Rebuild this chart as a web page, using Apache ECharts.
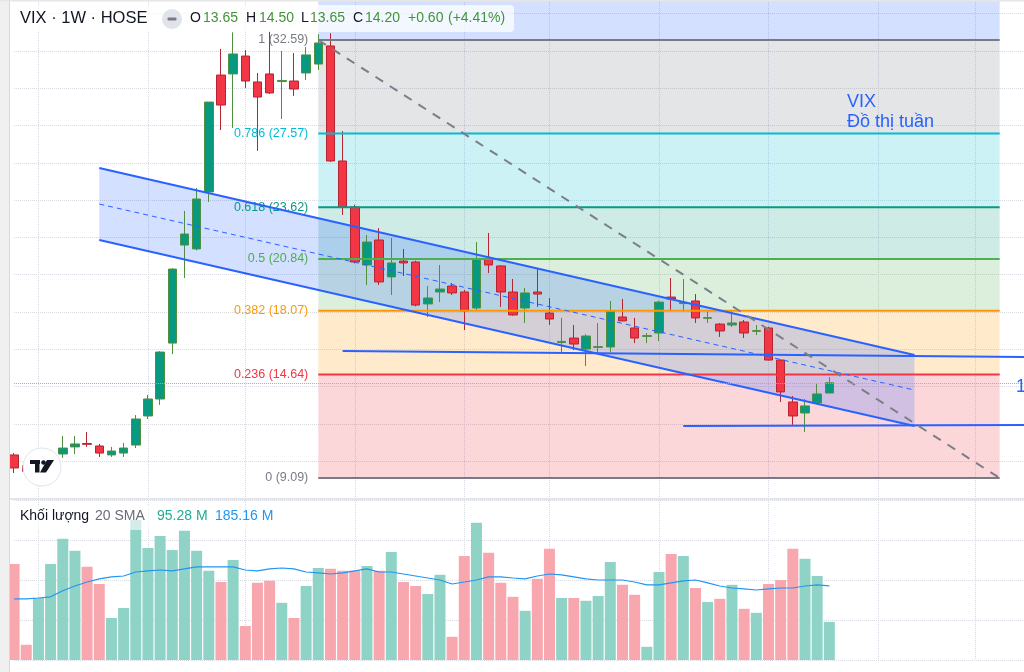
<!DOCTYPE html>
<html lang="vi">
<head>
<meta charset="UTF-8">
<title>VIX 1W HOSE</title>
<style>
  html, body { margin: 0; padding: 0; background: #fff; }
  #chart { width: 1024px; height: 672px; }
</style>
</head>
<body>
<div id="chart"></div>
<script src="https://cdn.jsdelivr.net/npm/echarts@6/dist/echarts.min.js"></script>
<script>
// weekly candles
var opens = [10.33, 9.75, 9.45, 9.70, 10.38, 10.76, 10.94, 10.81, 10.33, 10.43,
  10.86, 12.42, 13.33, 16.33, 21.59, 21.38, 24.44, 30.71, 30.77, 31.73,
  30.34, 30.77, 30.36, 30.39, 30.82, 31.30, 32.27, 26.10, 23.63, 20.52,
  21.86, 19.88, 20.73, 20.68, 18.43, 19.07, 19.39, 19.07, 18.21, 20.84,
  20.47, 19.07, 18.21, 19.07, 17.94, 16.36, 16.60, 16.01, 16.10, 16.12,
  17.73, 17.14, 16.69, 16.87, 18.80, 18.45, 18.59, 17.66, 17.35, 17.30,
  17.46, 16.96, 17.14, 15.42, 13.17, 12.58, 13.12, 13.65];
var highs = [10.43, 9.85, 9.90, 10.10, 11.35, 11.35, 11.56, 10.92, 10.76, 10.97,
  12.47, 13.55, 15.90, 20.35, 23.42, 24.65, 29.26, 32.11, 33.00, 32.05,
  30.82, 33.05, 32.00, 31.89, 32.21, 32.90, 32.95, 27.71, 23.75, 22.13,
  22.50, 21.97, 21.38, 20.75, 19.39, 20.52, 19.55, 19.18, 21.75, 22.24,
  20.50, 19.77, 19.29, 20.30, 18.75, 17.68, 17.30, 16.80, 17.41, 18.59,
  18.70, 17.68, 16.87, 18.60, 19.82, 19.77, 18.96, 18.10, 17.40, 18.10,
  17.57, 17.30, 17.20, 15.45, 13.49, 13.33, 14.19, 14.50];
var lows = [9.36, 9.09, 9.30, 9.60, 10.17, 10.38, 10.76, 10.22, 10.22, 10.22,
  10.70, 12.26, 13.01, 15.74, 19.82, 21.30, 23.90, 27.76, 27.87, 30.02,
  26.64, 29.70, 28.35, 29.59, 30.44, 30.98, 26.05, 23.20, 20.60, 19.45,
  19.45, 18.91, 19.93, 18.30, 17.73, 18.53, 18.91, 17.03, 18.05, 20.09,
  18.27, 17.80, 17.41, 18.27, 17.30, 15.80, 15.96, 15.10, 15.80, 15.85,
  17.50, 16.33, 16.33, 16.44, 18.10, 18.00, 17.41, 17.41, 16.66, 17.19,
  16.60, 16.76, 15.40, 13.17, 11.94, 11.56, 13.10, 13.65];
var closes = [9.63, 9.45, 9.75, 9.95, 10.70, 10.92, 10.90, 10.43, 10.54, 10.70,
  12.26, 13.33, 15.85, 20.30, 22.18, 24.06, 29.26, 29.10, 31.84, 30.39,
  29.53, 29.75, 30.42, 29.96, 31.79, 32.43, 26.10, 23.63, 20.68, 21.75,
  19.61, 20.63, 20.63, 18.37, 18.75, 19.23, 19.02, 18.05, 20.84, 20.52,
  19.07, 17.84, 19.02, 18.96, 17.62, 16.42, 16.28, 16.71, 16.14, 18.05,
  17.52, 16.60, 16.73, 18.53, 18.70, 18.51, 17.68, 17.70, 16.98, 17.41,
  16.87, 17.00, 15.42, 13.71, 12.42, 12.96, 13.60, 14.20];
// volume in millions and its 20 SMA
var volumes = [240, 38, 155, 240, 303, 273, 233, 190, 105, 130,
  350, 280, 310, 275, 323, 273, 223, 195, 250, 85,
  193, 198, 143, 105, 185, 230, 228, 223, 223, 235,
  223, 270, 195, 185, 165, 213, 58, 260, 343, 268,
  193, 158, 123, 203, 278, 155, 155, 148, 160, 245,
  188, 163, 33, 220, 265, 260, 180, 145, 153, 188,
  128, 118, 190, 200, 278, 253, 210, 95.28];
var volSma = [153, 153, 155, 158, 173, 185, 195, 203, 208, 210,
  220, 223, 225, 223, 228, 233, 233, 233, 233, 225,
  223, 228, 230, 228, 220, 218, 215, 218, 223, 228,
  220, 220, 215, 210, 205, 200, 190, 195, 200, 208,
  208, 205, 203, 210, 215, 213, 208, 203, 200, 200,
  200, 195, 188, 188, 193, 198, 200, 193, 185, 180,
  178, 175, 178, 180, 180, 185, 188, 185.16];

// fibonacci retracement drawing
var fibLevels = [0, 0.236, 0.382, 0.5, 0.618, 0.786, 1, 1.618];
var fibPrices = [9.09, 14.64, 18.07, 20.84, 23.62, 27.57, 32.59, 47.11];
var fibColors = ['#787b86', '#f23645', '#ff9800', '#4caf50', '#089981', '#00bcd4', '#787b86', '#2962ff'];
var fibFrom = 25, fibTo = 81;

// parallel channel (bar index, price at start/end)
var chanFrom = 7, chanTo = 74;
var chanUpper = [25.72, 15.69];
var chanMid = [23.79, 13.81];
var chanLower = [21.86, 11.88];
// horizontal lines and dashed trend line
var hLineA = [[27, 15.91], [83, 15.58]];
var hLineB = [[55, 11.88], [83, 11.94]];
var trendLine = [[25, 32.59], [81, 9.09]];

var gridCols = [2, 11, 19, 28, 37, 44, 53, 62, 71, 79];
var slotCount = 84;

var cats = [];
for (var i = 0; i < slotCount; i++) cats.push(String(i));

var candleData = opens.map(function (o, i) {
  return [o, closes[i], lows[i], highs[i]];
});
var volData = volumes.map(function (v, i) {
  return {
    value: v,
    itemStyle: { color: closes[i] >= opens[i] ? '#8fd3c6' : '#f9a7ae' }
  };
});

function rgba(hex, a) {
  var n = parseInt(hex.slice(1), 16);
  return 'rgba(' + (n >> 16) + ',' + ((n >> 8) & 255) + ',' + (n & 255) + ',' + a + ')';
}

function fillLayer(params, api) {
  var kids = [];
  var xa = api.coord([fibFrom, fibPrices[0]])[0];
  var xb = api.coord([fibTo, fibPrices[0]])[0];
  for (var i = 1; i < fibPrices.length; i++) {
    var yLow = api.coord([fibFrom, fibPrices[i - 1]])[1];
    var yHigh = api.coord([fibFrom, fibPrices[i]])[1];
    kids.push({
      type: 'rect',
      shape: { x: xa, y: yHigh, width: xb - xa, height: yLow - yHigh },
      style: { fill: rgba(fibColors[i], 0.2) }
    });
  }
  kids.push({
    type: 'polygon',
    shape: { points: [
      api.coord([chanFrom, chanUpper[0]]), api.coord([chanTo, chanUpper[1]]),
      api.coord([chanTo, chanLower[1]]), api.coord([chanFrom, chanLower[0]])
    ] },
    style: { fill: 'rgba(41,98,255,0.2)' }
  });
  return { type: 'group', children: kids };
}

function seg(api, a, b, style) {
  var p = api.coord(a), q = api.coord(b);
  return { type: 'line', shape: { x1: p[0], y1: p[1], x2: q[0], y2: q[1] }, style: style };
}

function lineLayer(params, api) {
  var kids = [];
  var xa = api.coord([fibFrom, 0])[0];
  for (var i = 0; i < fibPrices.length; i++) {
    var y = api.coord([fibFrom, fibPrices[i]])[1];
    kids.push(seg(api, [fibFrom, fibPrices[i]], [fibTo, fibPrices[i]],
      { stroke: fibColors[i], lineWidth: 2 }));
    kids.push({
      type: 'text', x: xa - 10, y: y,
      style: {
        text: fibLevels[i] + ' (' + fibPrices[i].toFixed(2) + ')',
        fill: fibColors[i], fontSize: 12.5, fontFamily: 'Liberation Sans',
        align: 'right', verticalAlign: 'middle'
      }
    });
  }
  var blue = { stroke: '#2962ff', lineWidth: 2 };
  kids.push(seg(api, [chanFrom, chanUpper[0]], [chanTo, chanUpper[1]], blue));
  kids.push(seg(api, [chanFrom, chanLower[0]], [chanTo, chanLower[1]], blue));
  kids.push(seg(api, [chanFrom, chanMid[0]], [chanTo, chanMid[1]],
    { stroke: '#2962ff', lineWidth: 1, lineDash: [5, 4] }));
  kids.push(seg(api, hLineA[0], hLineA[1], blue));
  kids.push(seg(api, hLineB[0], hLineB[1], blue));
  kids.push(seg(api, trendLine[0], trendLine[1],
    { stroke: '#7b7e88', lineWidth: 2, lineDash: [9, 8] }));
  return { type: 'group', children: kids };
}

var font = 'Liberation Sans';
var last = closes.length - 1;
var chg = closes[last] - closes[last - 1];
var chgPct = chg / closes[last - 1] * 100;
var upText = '#43933a';

var ohlc = [
  ['O', opens[last], 190, 203], ['H', highs[last], 246, 259],
  ['L', lows[last], 301, 310], ['C', closes[last], 353, 365]
];
var headerTexts = [];
ohlc.forEach(function (r) {
  headerTexts.push({ type: 'text', left: r[2], top: 11, z: 20,
    style: { text: r[0], fill: '#131722', fontSize: 14, fontFamily: font } });
  headerTexts.push({ type: 'text', left: r[3], top: 11, z: 20,
    style: { text: r[1].toFixed(2), fill: upText, fontSize: 14, fontFamily: font } });
});
headerTexts.push({ type: 'text', left: 408, top: 11, z: 20,
  style: { text: '+' + chg.toFixed(2), fill: upText, fontSize: 14, fontFamily: font } });
headerTexts.push({ type: 'text', left: 448, top: 11, z: 20,
  style: { text: '(+' + chgPct.toFixed(2) + '%)', fill: upText, fontSize: 14, fontFamily: font } });

var chart = echarts.init(document.getElementById('chart'));

// price pane: 18.64 px per point, 32.59 sits at y=40
var priceMin = 8, priceMax = 34.736;

var option = {
  animation: false,
  backgroundColor: '#ffffff',
  grid: [
    { left: 14.1, width: 1013, top: 0, height: 498.36 },
    { left: 14.1, width: 1013, top: 500, height: 160 }
  ],
  xAxis: [0, 1].map(function (g) {
    return {
      type: 'category', gridIndex: g, data: cats, boundaryGap: false,
      axisLine: { show: false }, axisTick: { show: false }, axisLabel: { show: false },
      splitLine: {
        show: true,
        interval: function (idx) { return gridCols.indexOf(idx) >= 0; },
        lineStyle: { color: '#d6d9e0', type: 'dotted' }
      }
    };
  }),
  yAxis: [
    { type: 'value', gridIndex: 0, min: priceMin, max: priceMax, interval: 2, position: 'right',
      axisLine: { show: false }, axisTick: { show: false }, axisLabel: { show: false },
      splitLine: { lineStyle: { color: '#d6d9e0', type: 'dotted' } } },
    { type: 'value', gridIndex: 1, min: 0, max: 400, interval: 100, position: 'right',
      axisLine: { show: false }, axisTick: { show: false }, axisLabel: { show: false },
      splitLine: { lineStyle: { color: '#d6d9e0', type: 'dotted' } } }
  ],
  series: [
    { type: 'custom', name: 'fibFill', xAxisIndex: 0, yAxisIndex: 0, z: 1, silent: true,
      renderItem: fillLayer, data: [[0, 20]] },
    { type: 'candlestick', name: 'VIX', xAxisIndex: 0, yAxisIndex: 0, z: 2, clip: false,
      barWidth: 9, data: candleData,
      itemStyle: { color: '#089981', color0: '#f23645', borderColor: '#4f8f3f', borderColor0: '#b52531', borderWidth: 1 },
      markLine: {
        silent: true, symbol: ['none', 'none'], label: { show: false },
        lineStyle: { color: '#6cc7b6', type: 'dotted', width: 1 },
        data: [{ yAxis: closes[last] }]
      } },
    { type: 'custom', name: 'drawings', xAxisIndex: 0, yAxisIndex: 0, z: 3, silent: true,
      renderItem: lineLayer, data: [[0, 20]] },
    { type: 'bar', name: 'Volume', xAxisIndex: 1, yAxisIndex: 1, barWidth: 11, clip: false,
      data: volData },
    { type: 'line', name: 'SMA 20', xAxisIndex: 1, yAxisIndex: 1, data: volSma,
      symbol: 'none', lineStyle: { color: '#2196f3', width: 1.2 }, z: 4 }
  ],
  graphic: [
    { type: 'rect', left: 0, top: 0, z: 15, shape: { width: 9, height: 672 }, style: { fill: '#f0f0f0' } },
    { type: 'rect', left: 9, top: 0, z: 15, shape: { width: 1, height: 672 }, style: { fill: '#d8d8d8' } },
    { type: 'rect', left: 0, top: 0, z: 15, shape: { width: 1024, height: 1.5 }, style: { fill: '#e6e6e6' } },
    { type: 'rect', left: 10, top: 498, z: 15, shape: { width: 1014, height: 2 }, style: { fill: '#e3e5ea' } },
    // header legend
    { type: 'rect', left: 12, top: 5, z: 18, shape: { width: 502, height: 27, r: 4 }, style: { fill: 'rgba(255,255,255,0.72)' } },
    { type: 'text', left: 20, top: 10, z: 20,
      style: { text: 'VIX · 1W · HOSE', fill: '#131722', fontSize: 16.5, fontFamily: font } },
    { type: 'circle', shape: { cx: 172, cy: 19, r: 10 }, z: 20, style: { fill: '#e0e3eb' } },
    { type: 'rect', shape: { x: 167.5, y: 17.5, width: 9, height: 3, r: 1 }, z: 21, style: { fill: '#787b86' } }
  ].concat(headerTexts).concat([
    // volume legend
    { type: 'rect', left: 12, top: 505, z: 18, shape: { width: 268, height: 25, r: 3 }, style: { fill: 'rgba(255,255,255,0.6)' } },
    { type: 'text', left: 20, top: 509, z: 20, style: { text: 'Khối lượng', fill: '#131722', fontSize: 14, fontFamily: font } },
    { type: 'text', left: 95, top: 509, z: 20, style: { text: '20 SMA', fill: '#6a6d78', fontSize: 14, fontFamily: font } },
    { type: 'text', left: 157, top: 509, z: 20, style: { text: volumes[last].toFixed(2) + ' M', fill: '#22ab94', fontSize: 14, fontFamily: font } },
    { type: 'text', left: 215, top: 509, z: 20, style: { text: volSma[last].toFixed(2) + ' M', fill: '#2196f3', fontSize: 14, fontFamily: font } },
    // note text
    { type: 'text', left: 847, top: 92, z: 20, style: { text: 'VIX\nĐồ thị tuần', fill: '#2962ff', fontSize: 18, lineHeight: 20, fontFamily: font } },
    { type: 'text', left: 1016, top: 378, z: 20, style: { text: '1', fill: '#2962ff', fontSize: 18, fontFamily: font } },
    // logo badge
    { type: 'circle', shape: { cx: 42, cy: 467, r: 19 }, z: 20, style: { fill: '#ffffff', stroke: '#e0e3eb', lineWidth: 1 } },
    { type: 'rect', shape: { x: 30, y: 460, width: 10, height: 4 }, z: 21, style: { fill: '#131722' } },
    { type: 'rect', shape: { x: 35, y: 460, width: 4.5, height: 12.5 }, z: 21, style: { fill: '#131722' } },
    { type: 'circle', shape: { cx: 43.5, cy: 462.5, r: 2.3 }, z: 21, style: { fill: '#131722' } },
    { type: 'polygon', shape: { points: [[47, 460], [54, 460], [46, 472.5], [40, 472.5]] }, z: 21, style: { fill: '#131722' } }
  ])
};

chart.setOption(option);
</script>
</body>
</html>
